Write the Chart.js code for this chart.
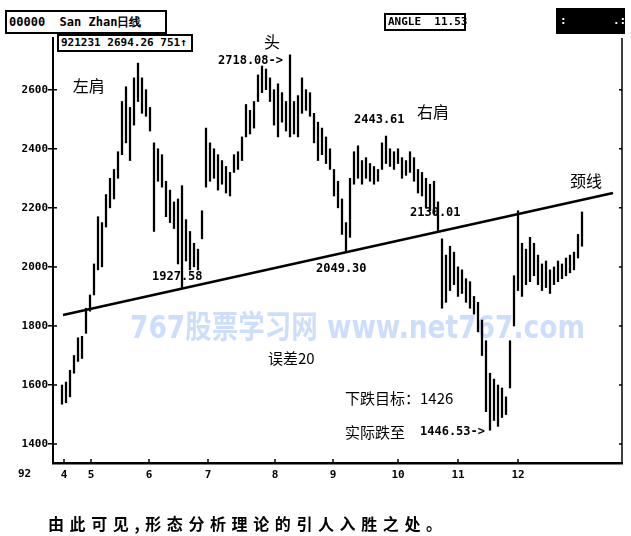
<!DOCTYPE html>
<html>
<head>
<meta charset="utf-8">
<script src="https://cdn.jsdelivr.net/npm/chart.js@4/dist/chart.umd.min.js"></script>
<style>
  html, body { margin: 0; padding: 0; background: #fff; }
  #wrap { position: relative; width: 631px; height: 536px; overflow: hidden; }
  canvas { position: absolute; left: 0; top: 0; }
  .box { position: absolute; border: 2px solid #000; background: #fff; font: bold 11px "DejaVu Sans Mono", monospace; line-height: 14px; padding: 0 2px; white-space: pre; color: #000; }
  #caption { position: absolute; left: 48px; top: 511px; font: bold 16px "Noto Sans CJK SC", sans-serif; letter-spacing: 5.6px; color: #000; white-space: nowrap; }
</style>
</head>
<body>
<div id="wrap">
  <canvas id="chart" width="631" height="536"></canvas>
  <div class="box" style="left:5px;top:10px;width:154px;height:20px;line-height:20px;font-size:12px;">00000  San Zhan日线</div>
  <div class="box" style="left:57px;top:34px;width:128px;height:14px;">921231 2694.26 751↑</div>
  <div class="box" style="left:384px;top:13px;width:74px;height:14px;">ANGLE  11.53</div>
  <div class="box" style="left:556px;top:8px;width:61px;height:22px;background:#000;color:#fff;line-height:22px;">:       .:Π</div>
  <div id="caption">由此可见,形态分析理论的引人入胜之处。</div>
</div>
<script>
  // month labels and where they sit on the session axis
  const months = ["4", "5", "6", "7", "8", "9", "10", "11", "12"];
  const monthPos = [0.5, 7.25, 21.75, 36.5, 53.25, 67.75, 84, 99, 114];
  const yTicks = [1400, 1600, 1800, 2000, 2200, 2400, 2600];

  // session highs / lows
  const highs = [
    1600, 1610, 1650, 1700, 1760, 1765, 1860, 1905, 2010, 2170,
    2150, 2245, 2300, 2330, 2390, 2560, 2610, 2540, 2640, 2690,
    2640, 2600, 2540, 2420, 2400, 2380, 2290, 2260, 2220, 2230,
    2275, 2160, 2120, 2080, 2060, 2190, 2470, 2420, 2400, 2380,
    2360, 2340, 2320, 2380, 2390, 2440, 2550, 2530, 2560, 2650,
    2680, 2670, 2640, 2600, 2620, 2590, 2560, 2718, 2560, 2580,
    2640, 2600, 2590, 2520, 2490, 2470, 2440, 2400, 2330, 2290,
    2230, 2150, 2300, 2390, 2410, 2360, 2370, 2350, 2340, 2330,
    2420, 2443, 2400, 2390, 2400, 2370, 2360, 2390, 2370, 2330,
    2320, 2300, 2280, 2290, 2220, 2095, 2040, 2070, 2050, 2000,
    1990, 1960, 1950, 1900, 1880, 1820, 1750, 1640, 1620, 1600,
    1590, 1560, 1750, 1970, 2190, 2080, 2060, 2100, 2080, 2040,
    2010, 2020, 1990, 2000, 2020, 2010, 2030, 2040, 2050, 2110,
    2186
  ];
  const lows = [
    1535, 1540, 1560, 1640, 1680, 1690, 1775, 1850, 1905, 1990,
    2000, 2135, 2200, 2230, 2300, 2380, 2420, 2360, 2480, 2560,
    2520, 2510, 2460, 2120, 2290, 2270, 2170, 2150, 2130, 2010,
    1928, 2020, 1990, 2000, 1990, 2095, 2270, 2290, 2300, 2260,
    2280, 2250, 2240, 2320, 2330, 2360, 2440, 2450, 2470, 2560,
    2590, 2600, 2560, 2480, 2440, 2490, 2460, 2440, 2450, 2440,
    2520, 2530, 2510, 2420, 2360, 2380, 2350, 2330, 2240, 2200,
    2110, 2049, 2100, 2280, 2300, 2280, 2300, 2290, 2280, 2290,
    2330, 2350, 2340, 2330, 2350, 2300, 2310, 2320, 2290, 2250,
    2240, 2200, 2190, 2180, 2120, 1860, 1880, 1920, 1940, 1900,
    1910, 1880, 1860, 1840, 1780, 1700, 1510, 1447, 1480, 1460,
    1490, 1500, 1590, 1800, 1920, 1900, 1940, 1950, 1970, 1940,
    1920, 1930, 1910, 1940, 1950, 1960, 1970, 1980, 1990, 2030,
    2070
  ];

  // neckline end points (session, index value)
  const neckX = [0.25, 137.75];
  const neckY = [1837, 2250];

  const notes = [
    { text: "头", x: 52.5, y: 2761, font: "16px 'Noto Sans CJK SC'", align: "center" },
    { text: "2718.08->", x: 39, y: 2697, font: "bold 12px 'DejaVu Sans Mono'", align: "left" },
    { text: "左肩", x: 2.7, y: 2612, font: "16px 'Noto Sans CJK SC'", align: "left" },
    { text: "2443.61", x: 73, y: 2497, font: "bold 12px 'DejaVu Sans Mono'", align: "left" },
    { text: "右肩", x: 88.75, y: 2524, font: "16px 'Noto Sans CJK SC'", align: "left" },
    { text: "颈线", x: 127, y: 2291, font: "16px 'Noto Sans CJK SC'", align: "left" },
    { text: "2130.01", x: 87, y: 2182, font: "bold 12px 'DejaVu Sans Mono'", align: "left" },
    { text: "2049.30", x: 63.5, y: 1993, font: "bold 12px 'DejaVu Sans Mono'", align: "left" },
    { text: "1927.58", x: 22.5, y: 1966, font: "bold 12px 'DejaVu Sans Mono'", align: "left" },
    { text: "误差20", x: 51.5, y: 1692, font: "15px 'Noto Sans CJK SC'", align: "left" },
    { text: "下跌目标：1426", x: 70.75, y: 1556, font: "15px 'Noto Sans CJK SC'", align: "left" },
    { text: "实际跌至", x: 70.75, y: 1441, font: "15px 'Noto Sans CJK SC'", align: "left" },
    { text: "1446.53->", x: 89.5, y: 1441, font: "bold 12px 'DejaVu Sans Mono'", align: "left" }
  ];

  const decor = {
    id: "decor",
    beforeDatasetsDraw(chart) {
      const { ctx } = chart;
      ctx.save();
      ctx.fillStyle = "rgba(170,200,250,0.6)";
      ctx.font = "bold 32px 'DejaVu Sans', 'Noto Sans CJK SC'";
      ctx.textBaseline = "middle";
      ctx.textAlign = "left";
      ctx.fillText("767股票学习网 www.net767.com", 130, 330, 455);
      ctx.restore();
    },
    afterDraw(chart) {
      const { ctx, chartArea } = chart;
      const xs = chart.scales.x, ys = chart.scales.y;
      ctx.save();
      ctx.strokeStyle = "#000";
      // right frame line
      ctx.lineWidth = 1.5;
      ctx.beginPath();
      ctx.moveTo(chartArea.right, chartArea.top);
      ctx.lineTo(chartArea.right, chartArea.bottom);
      ctx.stroke();
      // inward tick marks
      yTicks.forEach(v => {
        const y = ys.getPixelForValue(v);
        ctx.beginPath();
        ctx.moveTo(chartArea.left, y); ctx.lineTo(chartArea.left + 4, y);
        ctx.moveTo(chartArea.right, y); ctx.lineTo(chartArea.right - 3, y);
        ctx.stroke();
      });
      monthPos.forEach(p => {
        const x = xs.getPixelForValue(p);
        ctx.beginPath();
        ctx.moveTo(x, chartArea.bottom); ctx.lineTo(x, chartArea.bottom - 4);
        ctx.stroke();
      });
      // year label
      ctx.fillStyle = "#000";
      ctx.font = "bold 11px 'DejaVu Sans Mono'";
      ctx.textBaseline = "middle";
      ctx.textAlign = "left";
      ctx.fillText("92", 18, 474);
      // annotations
      notes.forEach(n => {
        ctx.font = n.font;
        ctx.textAlign = n.align;
        ctx.fillText(n.text, xs.getPixelForValue(n.x), ys.getPixelForValue(n.y));
      });
      ctx.restore();
    }
  };

  new Chart(document.getElementById("chart"), {
    type: "bar",
    data: {
      datasets: [
        {
          data: highs.map((h, i) => ({ x: i, y: [lows[i], h] })),
          backgroundColor: "#000",
          barThickness: 1.6,
          grouped: false
        },
        {
          type: "line",
          data: neckX.map((x, i) => ({ x, y: neckY[i] })),
          borderColor: "#000",
          borderWidth: 2.5,
          pointRadius: 0
        }
      ]
    },
    options: {
      responsive: false,
      animation: false,
      events: [],
      layout: { padding: { left: 0, right: 9, top: 38, bottom: 0 } },
      plugins: { legend: { display: false }, tooltip: { enabled: false } },
      scales: {
        x: {
          type: "linear",
          min: -2.25,
          max: 140,
          offset: false,
          grid: { display: false, offset: false },
          border: { display: true, color: "#000", width: 2.5 },
          afterBuildTicks: s => { s.ticks = monthPos.map(v => ({ value: v })); },
          afterFit: s => { s.height = 73; },
          ticks: {
            padding: -2,
            color: "#000",
            font: { family: "DejaVu Sans Mono", weight: "bold", size: 11 },
            maxRotation: 0,
            autoSkip: false,
            callback: v => months[monthPos.indexOf(v)]
          }
        },
        y: {
          min: 1336,
          max: 2775,
          grid: { display: true, drawOnChartArea: false, tickLength: 5, color: "#000", lineWidth: 1.5 },
          border: { display: true, color: "#000", width: 2 },
          afterBuildTicks: s => { s.ticks = yTicks.map(v => ({ value: v })); },
          afterFit: s => { s.width = 53; },
          ticks: {
            padding: 0,
            color: "#000",
            font: { family: "DejaVu Sans Mono", weight: "bold", size: 11 },
            callback: v => String(v)
          }
        }
      }
    },
    plugins: [decor]
  });
</script>
</body>
</html>
